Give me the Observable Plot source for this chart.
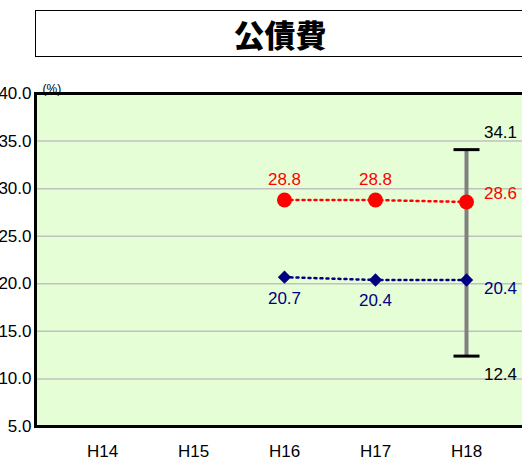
<!DOCTYPE html>
<html>
<head>
<meta charset="utf-8">
<script src="https://cdn.jsdelivr.net/npm/d3@7"></script>
<script src="https://cdn.jsdelivr.net/npm/@observablehq/plot@0.6"></script>
<style>
  html, body { margin: 0; padding: 0; background: white; overflow: hidden; width: 522px; height: 463px; }
  #wrap { position: relative; width: 522px; height: 463px; overflow: hidden; }
  #title {
    position: absolute; left: 35px; top: 10px; width: 488px; height: 45px;
    border: 1px solid #000; display: flex; align-items: center; justify-content: center;
    font-family: "Noto Sans CJK JP", sans-serif; font-weight: 900; font-size: 31px; color: #000;
  }
  #chart { position: absolute; left: 0; top: 57px; }
</style>
</head>
<body>
<div id="wrap">
  <div id="title">公債費</div>
  <div id="chart"></div>
</div>
<script>
const years = ["H14", "H15", "H16", "H17", "H18"];
const seriesYears = ["H16", "H17", "H18"];
const redValues = [28.8, 28.8, 28.6];
const blueValues = [20.7, 20.4, 20.4];
const rangeYear = ["H18"];
const rangeMax = [34.1];
const rangeMin = [12.4];
const yTicks = [5, 10, 15, 20, 25, 30, 35, 40];
const gridTicks = [10, 15, 20, 25, 30, 35];
const unitLabel = ["(%)"];

const red = seriesYears.map((x, i) => ({x, y: redValues[i], i}));
const blue = seriesYears.map((x, i) => ({x, y: blueValues[i], i}));
const range = rangeYear.map((x, i) => ({x, lo: rangeMin[i], hi: rangeMax[i]}));
const last = seriesYears.length - 1;

const capSymbol = {
  draw(ctx, size) {
    const w = Math.sqrt(size) / 2;
    ctx.moveTo(-w, 0);
    ctx.lineTo(w, 0);
  }
};

const font = "'Liberation Sans', Arial, sans-serif";

const chart = Plot.plot({
  width: 522,
  height: 406,
  marginLeft: 35,
  marginRight: -10,
  marginTop: 36,
  marginBottom: 37,
  style: {fontFamily: font, background: "transparent", overflow: "hidden"},
  x: {type: "point", domain: years, range: [102, 466], padding: 0},
  y: {domain: [5, 40]},
  marks: [
    Plot.frame({fill: "#e6fed6", stroke: null}),
    Plot.gridY(gridTicks, {stroke: "#c0c0c0", strokeOpacity: 1, strokeWidth: 1.5}),
    Plot.axisY(yTicks, {tickSize: 0, tickPadding: 4, tickFormat: d => d.toFixed(1), fontSize: 17, fill: "#000", label: null}),
    Plot.axisX({tickSize: 0, tickPadding: 18, fontSize: 17, fill: "#000", label: null}),
    Plot.frame({stroke: "#000", strokeWidth: 3}),
    Plot.text(unitLabel, {frameAnchor: "top-left", text: d => d, dx: 7, dy: -9, textAnchor: "start", fontSize: 12, fill: "#000"}),
    // range bar
    Plot.ruleX(range, {x: "x", y1: "lo", y2: "hi", stroke: "#808080", strokeWidth: 4}),
    Plot.dot(range, {x: "x", y: "hi", symbol: capSymbol, r: 26 / Math.sqrt(Math.PI), stroke: "#000", strokeWidth: 3, fill: "none"}),
    Plot.dot(range, {x: "x", y: "lo", symbol: capSymbol, r: 26 / Math.sqrt(Math.PI), stroke: "#000", strokeWidth: 3, fill: "none"}),
    Plot.text(range, {x: "x", y: "hi", text: d => d.hi.toFixed(1), dx: 34, dy: -17, fontSize: 17, fill: "#000"}),
    Plot.text(range, {x: "x", y: "lo", text: d => d.lo.toFixed(1), dx: 34, dy: 18, fontSize: 17, fill: "#000"}),
    // red series
    Plot.line(red, {x: "x", y: "y", stroke: "#ff0000", strokeWidth: 2.5, strokeDasharray: "2,4"}),
    Plot.dot(red, {x: "x", y: "y", r: 7.5, fill: "#ff0000", stroke: null}),
    Plot.text(red, {filter: d => d.i < last, x: "x", y: "y", text: d => d.y.toFixed(1), dy: -21, fontSize: 17, fill: "#ff0000"}),
    Plot.text(red, {filter: d => d.i === last, x: "x", y: "y", text: d => d.y.toFixed(1), dx: 34, dy: -8, fontSize: 17, fill: "#ff0000"}),
    // blue series
    Plot.line(blue, {x: "x", y: "y", stroke: "#000080", strokeWidth: 2.5, strokeDasharray: "2,4"}),
    Plot.dot(blue, {x: "x", y: "y", r: 6, symbol: "diamond2", fill: "#000080", stroke: null}),
    Plot.text(blue, {filter: d => d.i < last, x: "x", y: "y", text: d => d.y.toFixed(1), dy: 21, fontSize: 17, fill: "#000080"}),
    Plot.text(blue, {filter: d => d.i === last, x: "x", y: "y", text: d => d.y.toFixed(1), dx: 34, dy: 9, fontSize: 17, fill: "#000080"})
  ]
});
document.getElementById("chart").appendChild(chart);
</script>
</body>
</html>
